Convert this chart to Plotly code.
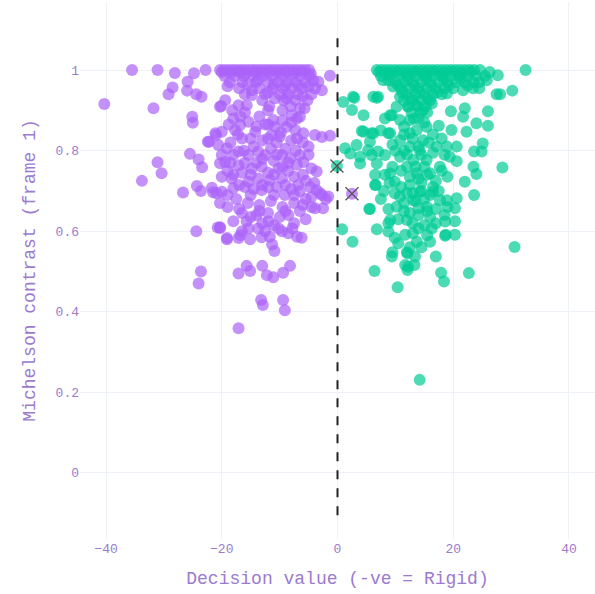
import plotly.graph_objects as go

# Rigid (negative decision value) samples: (decision value, Michelson contrast)
rigid_pts = [
    (-40.3, 0.916), (-35.5, 1.0), (-31.1, 1.0), (-28.1, 0.993), (-24.8, 0.992), (-22.8, 1.0),
    (-25.9, 0.971), (-28.5, 0.957), (-29.2, 0.94), (-26.0, 0.949), (-24.4, 0.94), (-23.5, 0.934),
    (-31.8, 0.905), (-25.1, 0.884), (-25.0, 0.869), (-22.2, 0.822), (-21.0, 0.839), (-25.5, 0.792),
    (-24.0, 0.778), (-23.4, 0.759), (-31.1, 0.771), (-30.4, 0.744), (-33.8, 0.725), (-26.7, 0.696),
    (-24.3, 0.712), (-23.6, 0.70), (-21.7, 0.708), (-20.9, 0.694), (-24.4, 0.60), (-20.7, 0.609),
    (-23.6, 0.50), (-24.0, 0.47), (-20.3, 0.909), (-21.1, 0.843), (-22.4, 0.822), (-20.3, 0.769),
    (-18.0, 0.707), (-21.5, 0.697), (-20.3, 0.67), (-19.1, 0.583), (-17.1, 0.583), (-20.3, 0.608),
    # top band
    (-20.3, 1.0), (-19.6, 1.0), (-18.9, 1.0), (-18.2, 1.0), (-17.5, 1.0), (-16.8, 1.0), (-16.1, 1.0),
    (-15.4, 1.0), (-14.7, 1.0), (-14.0, 1.0), (-13.3, 1.0), (-12.6, 1.0), (-11.9, 1.0), (-11.2, 1.0),
    (-10.5, 1.0), (-9.8, 1.0), (-9.1, 1.0), (-8.4, 1.0), (-7.7, 1.0), (-7.0, 1.0), (-6.3, 1.0),
    (-5.6, 1.0), (-4.9, 1.0),
    (-20.0, 0.995), (-18.5, 0.993), (-17.0, 0.995), (-15.8, 0.992), (-14.3, 0.995), (-13.0, 0.993),
    (-11.6, 0.995), (-10.1, 0.993), (-8.8, 0.995), (-7.4, 0.993), (-6.0, 0.995), (-4.6, 0.99),
    (-19.5, 0.985), (-17.8, 0.985), (-16.2, 0.985), (-14.5, 0.985), (-12.9, 0.985), (-11.3, 0.985),
    (-9.6, 0.985), (-8.0, 0.985), (-6.4, 0.985), (-4.8, 0.985), (-1.3, 0.986),
    (-18.6, 0.97), (-16.4, 0.97), (-14.1, 0.97), (-12.0, 0.97), (-10.3, 0.97), (-8.7, 0.97),
    (-7.2, 0.97), (-5.5, 0.97), (-3.3, 0.971), (-13.8, 0.975), (-4.2, 0.975),
    (-19.0, 0.96), (-15.5, 0.965), (-11.0, 0.965), (-9.0, 0.962), (-6.8, 0.962), (-5.0, 0.96),
    (-17.0, 0.955), (-13.5, 0.955), (-11.2, 0.955), (-9.4, 0.955), (-7.8, 0.955), (-6.1, 0.955),
    (-3.9, 0.955), (-2.7, 0.95), (-14.8, 0.95), (-12.0, 0.945),
    (-16.0, 0.94), (-12.5, 0.94), (-10.0, 0.94), (-8.5, 0.94), (-6.9, 0.94), (-4.5, 0.94),
    (-6.0, 0.935), (-10.8, 0.93), (-8.8, 0.93),
    (-19.4, 0.925), (-13.0, 0.925), (-9.3, 0.925), (-7.3, 0.925), (-5.2, 0.925),
    (-20.1, 0.911), (-17.1, 0.913), (-15.7, 0.913), (-14.8, 0.938), (-11.8, 0.91), (-8.1, 0.91),
    (-5.7, 0.905), (-6.5, 0.905), (-9.5, 0.9), (-18.2, 0.9),
    # middle mass
    (-6.5, 0.884), (-7.9, 0.888), (-11.1, 0.876), (-10.8, 0.859), (-20.0, 0.847), (-16.8, 0.864),
    (-15.4, 0.872), (-17.7, 0.851), (-14.2, 0.847), (-11.4, 0.839), (-8.8, 0.859), (-7.3, 0.851),
    (-3.9, 0.839), (-2.7, 0.834), (-1.3, 0.837), (-5.9, 0.843), (-20.6, 0.814), (-19.1, 0.806),
    (-20.0, 0.789), (-19.4, 0.772), (-17.1, 0.798), (-15.4, 0.789), (-13.7, 0.798), (-12.5, 0.789),
    (-9.6, 0.789), (-8.2, 0.781), (-6.5, 0.789), (-5.9, 0.772), (-4.5, 0.756), (-3.6, 0.748),
    (-17.1, 0.764), (-14.8, 0.756), (-13.1, 0.76), (-10.2, 0.756), (-20.0, 0.735), (-18.3, 0.731),
    (-15.4, 0.723), (-13.7, 0.731), (-11.7, 0.727), (-9.6, 0.731), (-6.8, 0.715), (-4.7, 0.71),
    (-3.6, 0.702), (-2.7, 0.69), (-20.0, 0.698), (-13.1, 0.702), (-9.1, 0.69),
    (-18.0, 0.88), (-16.0, 0.895), (-13.5, 0.885), (-12.0, 0.9), (-9.5, 0.875), (-8.0, 0.87),
    (-12.5, 0.865), (-9.8, 0.845), (-16.5, 0.83), (-13.0, 0.825), (-10.5, 0.82), (-8.0, 0.825),
    (-6.0, 0.82), (-18.5, 0.82), (-14.5, 0.81), (-11.5, 0.805), (-9.0, 0.805), (-7.2, 0.8),
    (-16.0, 0.77), (-11.0, 0.775), (-12.0, 0.745), (-8.5, 0.75), (-7.0, 0.765), (-6.0, 0.74),
    (-16.5, 0.745), (-19.0, 0.75), (-10.5, 0.71), (-12.0, 0.71), (-14.5, 0.705), (-17.0, 0.715),
    (-8.0, 0.705), (-5.5, 0.725), (-1.6, 0.686), (-3.0, 0.694),
    (-18.8, 0.865), (-17.2, 0.84), (-15.0, 0.83), (-12.0, 0.83), (-10.0, 0.835), (-7.0, 0.83),
    (-5.0, 0.81), (-18.0, 0.79), (-16.2, 0.80), (-13.0, 0.78), (-10.5, 0.79), (-8.5, 0.77),
    (-5.0, 0.79), (-18.5, 0.77), (-14.0, 0.77), (-9.5, 0.76), (-15.0, 0.74), (-11.0, 0.74),
    (-7.5, 0.735), (-4.0, 0.72), (-18.0, 0.74), (-16.0, 0.71), (-13.0, 0.715), (-9.0, 0.715),
    (-6.5, 0.70), (-19.0, 0.69), (-15.0, 0.69), (-11.0, 0.69), (-7.5, 0.69), (-4.5, 0.685),
    (-12.0, 0.865), (-14.0, 0.86), (-7.0, 0.88), (-16.8, 0.885),
    (-17.5, 0.68), (-15.5, 0.67), (-13.5, 0.665), (-11.5, 0.675), (-9.5, 0.66), (-7.5, 0.67),
    (-5.5, 0.68), (-19.0, 0.66), (-16.5, 0.645), (-14.0, 0.64), (-12.0, 0.645), (-10.0, 0.635),
    (-8.5, 0.64), (-6.5, 0.65), (-4.5, 0.66), (-18.0, 0.625), (-13.0, 0.62), (-11.0, 0.615),
    (-7.5, 0.62), (-5.5, 0.63), (-3.9, 0.657), (-2.5, 0.657), (-2.0, 0.68),
    (-17.0, 0.655), (-13.5, 0.65), (-9.0, 0.65), (-6.0, 0.665), (-15.0, 0.635), (-12.5, 0.60),
    (-8.5, 0.595), (-16.5, 0.60),
    # lower tail
    (-20.3, 0.61), (-19.1, 0.58), (-15.1, 0.58), (-13.1, 0.585), (-16.8, 0.59), (-15.7, 0.625),
    (-15.4, 0.607), (-13.7, 0.607), (-11.9, 0.625), (-11.7, 0.586), (-11.3, 0.567), (-10.9, 0.551),
    (-10.2, 0.607), (-9.6, 0.60), (-7.8, 0.607), (-7.0, 0.586), (-6.2, 0.584),
    (-17.1, 0.495), (-15.7, 0.514), (-15.1, 0.501), (-13.0, 0.514), (-12.2, 0.491), (-11.1, 0.486),
    (-9.4, 0.497), (-8.2, 0.514), (-13.2, 0.429), (-12.9, 0.417), (-9.4, 0.429), (-9.1, 0.404),
    (-17.1, 0.359),
]

# Non-rigid (positive decision value) samples
nonrigid_pts = [
    (32.5, 1.0),
    (6.8, 1.0), (7.6, 1.0), (8.4, 1.0), (9.2, 1.0), (10.0, 1.0), (10.8, 1.0), (11.6, 1.0), (12.4, 1.0),
    (13.2, 1.0), (14.0, 1.0), (14.8, 1.0), (15.6, 1.0), (16.4, 1.0), (17.2, 1.0), (18.0, 1.0),
    (18.8, 1.0), (19.6, 1.0), (20.4, 1.0), (21.2, 1.0), (22.0, 1.0), (22.8, 1.0), (23.6, 1.0),
    (24.6, 1.0), (26.3, 0.995),
    (7.2, 0.995), (8.8, 0.993), (10.4, 0.995), (11.9, 0.993), (13.5, 0.995), (15.0, 0.993),
    (16.6, 0.995), (18.2, 0.993), (19.8, 0.995), (21.4, 0.993), (23.0, 0.995),
    (7.5, 0.985), (9.0, 0.985), (10.5, 0.985), (12.0, 0.985), (13.5, 0.985), (15.0, 0.985),
    (16.5, 0.985), (18.0, 0.985), (19.5, 0.985), (21.0, 0.985), (22.5, 0.985), (24.0, 0.985),
    (25.5, 0.985), (27.7, 0.987),
    (7.9, 0.975), (8.8, 0.975), (12.2, 0.978), (15.3, 0.978), (18.3, 0.978), (21.2, 0.978),
    (24.5, 0.97),
    (10.0, 0.97), (11.5, 0.97), (13.0, 0.97), (14.5, 0.97), (16.0, 0.97), (17.5, 0.97),
    (19.0, 0.97), (20.5, 0.97), (22.0, 0.97), (23.5, 0.97), (25.8, 0.975),
    (10.5, 0.962), (13.3, 0.962), (16.2, 0.962), (19.2, 0.962), (22.5, 0.962),
    (9.6, 0.959), (11.0, 0.955), (12.5, 0.955), (14.0, 0.955), (15.5, 0.955), (17.0, 0.955),
    (18.5, 0.955), (20.0, 0.955), (21.7, 0.95), (23.4, 0.955), (24.5, 0.955),
    (11.2, 0.945), (14.2, 0.945), (17.2, 0.945),
    (10.8, 0.934), (12.0, 0.94), (13.5, 0.94), (15.0, 0.94), (16.5, 0.94), (18.0, 0.94), (18.9, 0.942),
    (27.5, 0.94), (28.1, 0.94), (30.2, 0.949),
    (12.5, 0.93), (15.5, 0.93),
    (11.5, 0.925), (13.0, 0.925), (14.5, 0.925), (16.0, 0.925), (16.3, 0.917),
    (13.5, 0.915), (12.2, 0.91), (13.8, 0.91), (15.2, 0.91), (10.2, 0.909), (12.2, 0.909),
    (12.8, 0.895), (14.3, 0.895), (15.5, 0.895), (14.8, 0.90), (13.2, 0.88), (15.0, 0.87),
    # left flank
    (1.0, 0.921), (2.7, 0.934), (2.5, 0.901), (4.5, 0.888), (6.2, 0.934), (7.0, 0.934),
    (4.5, 0.847), (6.2, 0.843), (8.8, 0.843), (8.2, 0.88), (9.4, 0.888), (1.3, 0.806),
    (3.3, 0.814), (2.2, 0.793), (3.9, 0.785), (5.3, 0.801), (5.6, 0.822), (3.9, 0.768),
    (5.9, 0.789), (7.0, 0.798), (8.2, 0.789), (6.5, 0.74), (8.2, 0.74), (6.5, 0.715), (9.9, 0.723),
    (2.9, 0.931), (4.2, 0.849), (5.9, 0.843), (6.8, 0.931), (9.1, 0.888), (9.1, 0.843),
    (6.8, 0.768), (6.6, 0.715), (9.1, 0.744), (9.9, 0.694), (10.2, 0.661), (9.1, 0.628),
    (6.8, 0.605), (8.8, 0.599), (5.5, 0.655), (0.8, 0.605), (2.6, 0.574), (6.4, 0.501),
    (10.0, 0.80), (9.5, 0.76), (9.0, 0.72), (8.0, 0.70), (7.5, 0.68), (9.5, 0.815), (7.5, 0.85),
    # right flank
    (26.0, 0.898), (26.0, 0.862), (24.0, 0.868), (22.0, 0.905), (21.7, 0.884), (22.3, 0.847),
    (19.6, 0.898), (17.5, 0.862), (19.7, 0.851), (25.1, 0.818), (24.9, 0.798), (23.6, 0.798),
    (28.5, 0.758), (23.5, 0.76), (24.0, 0.742), (22.0, 0.723), (23.6, 0.69), (20.6, 0.774),
    (20.6, 0.682), (20.3, 0.657), (20.3, 0.625), (18.7, 0.591), (20.3, 0.591), (30.6, 0.561),
    # central mass
    (12.0, 0.628), (10.8, 0.686), (14.2, 0.698), (16.5, 0.698), (17.7, 0.677), (18.9, 0.677),
    (15.4, 0.661), (13.1, 0.677), (19.4, 0.785), (20.6, 0.81), (18.9, 0.81), (17.1, 0.81),
    (14.2, 0.801), (12.5, 0.81), (13.1, 0.777), (15.4, 0.777), (17.7, 0.76), (16.0, 0.744),
    (13.7, 0.744), (12.0, 0.76), (10.8, 0.785), (10.8, 0.826), (12.5, 0.843), (14.8, 0.826),
    (15.4, 0.859), (13.7, 0.851), (12.5, 0.876), (10.8, 0.876), (14.0, 0.88), (11.5, 0.86),
    (16.5, 0.84), (18.0, 0.83), (11.5, 0.80), (16.5, 0.795), (18.5, 0.79), (11.0, 0.75),
    (14.5, 0.72), (12.5, 0.715), (17.0, 0.725), (19.0, 0.735), (11.0, 0.71), (15.5, 0.74),
    (13.0, 0.695), (15.0, 0.68), (17.0, 0.655), (11.5, 0.65), (14.0, 0.64), (16.0, 0.635),
    (18.5, 0.64), (10.5, 0.63), (13.0, 0.62), (15.0, 0.615), (17.0, 0.62), (19.0, 0.66),
    (11.5, 0.84), (13.0, 0.83), (15.8, 0.82), (14.0, 0.81), (12.0, 0.79), (13.5, 0.76),
    (15.0, 0.76), (14.5, 0.79), (12.5, 0.735), (14.0, 0.73), (16.5, 0.71), (12.0, 0.695),
    (14.5, 0.70), (16.0, 0.69), (13.5, 0.675), (11.5, 0.67), (15.5, 0.65), (12.5, 0.645),
    (13.0, 0.595), (15.5, 0.59), (14.5, 0.56), (12.5, 0.56), (10.5, 0.57), (17.5, 0.70),
    (18.0, 0.75),
    (5.6, 0.655), (8.8, 0.655), (8.8, 0.62), (9.9, 0.584), (11.7, 0.591), (14.0, 0.607),
    (13.7, 0.574), (16.0, 0.574), (16.3, 0.607), (18.6, 0.624), (18.6, 0.589), (14.0, 0.657),
    # lower tail
    (9.4, 0.537), (12.0, 0.548), (13.4, 0.537), (12.2, 0.512), (9.5, 0.548), (12.1, 0.545),
    (13.3, 0.516), (11.7, 0.516), (12.1, 0.504), (17.0, 0.537), (17.9, 0.497), (18.4, 0.475),
    (22.7, 0.496), (10.4, 0.461), (14.2, 0.231),
]

# Flagged samples drawn with a cross on top
flag_x = [-0.1, 2.5]
flag_y = [0.762, 0.693]
flag_colors = ["#00CC96", "#AB63FA"]

rigid_x = [p[0] for p in rigid_pts]
rigid_y = [p[1] for p in rigid_pts]
nonrigid_x = [p[0] for p in nonrigid_pts]
nonrigid_y = [p[1] for p in nonrigid_pts]

font_family = "Courier New, Liberation Mono, monospace"
text_color = "#9b7ad0"

fig = go.Figure()
fig.add_trace(go.Scatter(
    x=rigid_x, y=rigid_y, mode="markers",
    marker=dict(color="#AB63FA", size=12, opacity=0.7, line=dict(width=0)),
    showlegend=False,
))
fig.add_trace(go.Scatter(
    x=nonrigid_x, y=nonrigid_y, mode="markers",
    marker=dict(color="#00CC96", size=12, opacity=0.7, line=dict(width=0)),
    showlegend=False,
))
fig.add_trace(go.Scatter(
    x=[0, 0], y=[-0.105, 1.08], mode="lines",
    line=dict(color="#222222", width=2, dash="dash"),
    showlegend=False,
))
fig.add_trace(go.Scatter(
    x=flag_x, y=flag_y, mode="markers",
    marker=dict(color=flag_colors, size=12, opacity=0.7, line=dict(width=0)),
    showlegend=False,
))
fig.add_trace(go.Scatter(
    x=flag_x, y=flag_y, mode="markers",
    marker=dict(symbol="x-thin-open", size=13, color="#555555",
                line=dict(color="#555555", width=1.3)),
    showlegend=False,
))

fig.update_layout(
    template="plotly_white",
    width=595, height=594,
    margin=dict(l=80, r=0, t=2, b=55),
    font=dict(family=font_family, color=text_color, size=13),
    plot_bgcolor="white",
    paper_bgcolor="white",
)
fig.update_xaxes(
    range=[-44.5, 44.5],
    tickvals=[-40, -20, 0, 20, 40],
    gridcolor="#EEF1F8", zeroline=False,
    title=dict(text="Decision value (-ve = Rigid)", font=dict(size=18, color=text_color)),
    tickfont=dict(size=13, color=text_color),
    automargin=False,
)
fig.update_yaxes(
    range=[-0.164, 1.169],
    tickvals=[0, 0.2, 0.4, 0.6, 0.8, 1],
    gridcolor="#EEF1F8", zeroline=False,
    title=dict(text="Michelson contrast (frame 1)", font=dict(size=18, color=text_color)),
    tickfont=dict(size=13, color=text_color),
    automargin=False,
)

fig.write_html("out.html")
